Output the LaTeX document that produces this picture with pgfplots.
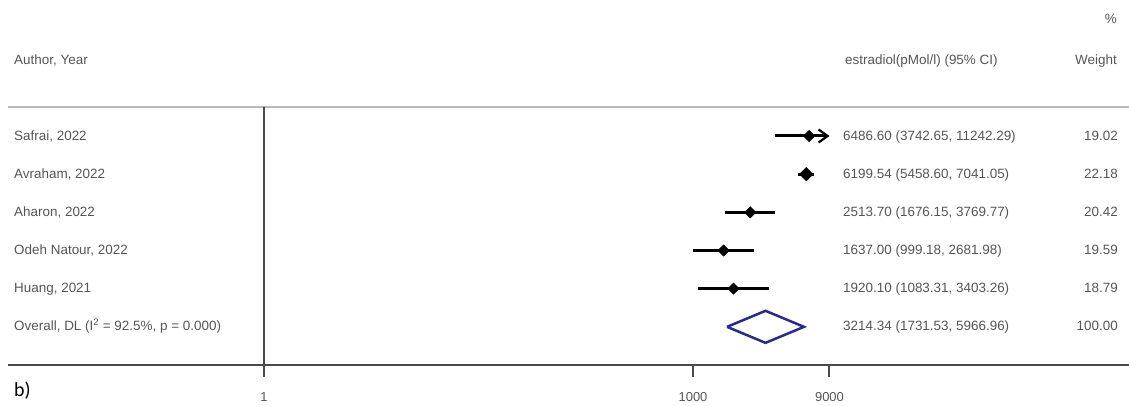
\documentclass[border=0pt]{standalone}
\usepackage{fontspec}
\setmainfont{Liberation Sans}
\newfontfamily\calib{Carlito}
\usepackage{pgfplots}
\pgfplotsset{compat=1.18}
\usetikzlibrary{arrows.meta}
\definecolor{txt}{HTML}{555555}
\definecolor{navy}{HTML}{2A2A8E}
\definecolor{axc}{HTML}{4A4A4A}
\tikzset{lab/.style={font=\fontsize{13.5}{16}\selectfont, text=txt, inner sep=0pt, yshift=-1.5bp}}
\begin{document}
\begin{tikzpicture}
\useasboundingbox (-8bp,-41bp) rectangle (1121bp,365bp);
\begin{axis}[
  at={(0,0)}, anchor=south west, scale only axis,
  width=1121bp, height=258bp,
  xmode=log, xmin=0.01622, xmax=1.119e6, ymin=0, ymax=6.76,
  axis x line*=bottom, axis y line=none,
  xtick={1,1000,9000}, xticklabels={\mbox{1},\mbox{1000},\mbox{9000}},
  xminorticks=false, ytick=\empty,
  tick align=outside, major tick length=12bp,
  x axis line style={line width=2.5bp, color=axc},
  tick style={line width=2bp, color=axc},
  xticklabel style={font=\fontsize{13}{15}\selectfont, text=txt, yshift=-12bp},
  clip=false,
]
% separator line and null line
\draw[line width=1.8bp, color=gray!55] (rel axis cs:0,1) -- (rel axis cs:1,1);
\addplot[line width=2bp, color=axc] coordinates {(1,0) (1,6.76)};
% confidence intervals
\addplot[line width=3bp, black, -{Straight Barb[length=9bp,width=13bp,line width=2.2bp]}] coordinates {(3742.65,6) (9000,6)};
\addplot[line width=3bp, black] coordinates {(5458.60,5) (7041.05,5)};
\addplot[line width=3bp, black] coordinates {(1676.15,4) (3769.77,4)};
\addplot[line width=3bp, black] coordinates {(999.18,3) (2681.98,3)};
\addplot[line width=3bp, black] coordinates {(1083.31,2) (3403.26,2)};
% point estimates
\addplot[only marks, mark=square*, mark size=4bp, mark options={rotate=45, black, fill=black}] coordinates {
 (6486.60,6) (2513.70,4) (1637.00,3) (1920.10,2)};
\addplot[only marks, mark=square*, mark size=4.8bp, mark options={rotate=45, black, fill=black}] coordinates {
 (6199.54,5)};
% overall diamond
\addplot[navy, line width=2.5bp, line join=miter] coordinates {
 (1731.53,1) (3214.34,1.42) (5966.96,1) (3214.34,0.58) (1731.53,1)};
% headers
\node[lab, anchor=mid east] at (rel axis cs:0.9893,1.340) {\%};
\node[lab, anchor=mid west] at (rel axis cs:0.00535,1.182) {Author, Year};
\node[lab, anchor=mid west] at (rel axis cs:0.7466,1.182) {estradiol(pMol/l) (95\% CI)};
\node[lab, anchor=mid east] at (rel axis cs:0.9893,1.182) {Weight};
% rows
\node[lab, anchor=mid west] at (rel axis cs:0.00535,0.8876) {Safrai, 2022};
\node[lab, anchor=mid west] at (rel axis cs:0.00535,0.7396) {Avraham, 2022};
\node[lab, anchor=mid west] at (rel axis cs:0.00535,0.5917) {Aharon, 2022};
\node[lab, anchor=mid west] at (rel axis cs:0.00535,0.4438) {Odeh Natour, 2022};
\node[lab, anchor=mid west] at (rel axis cs:0.00535,0.2959) {Huang, 2021};
\node[lab, anchor=mid west] at (rel axis cs:0.00535,0.1479) {Overall, DL (I\textsuperscript{2} = 92.5\%, p = 0.000)};
\node[lab, anchor=mid west] at (rel axis cs:0.7449,0.8876) {6486.60 (3742.65, 11242.29)};
\node[lab, anchor=mid west] at (rel axis cs:0.7449,0.7396) {6199.54 (5458.60, 7041.05)};
\node[lab, anchor=mid west] at (rel axis cs:0.7449,0.5917) {2513.70 (1676.15, 3769.77)};
\node[lab, anchor=mid west] at (rel axis cs:0.7449,0.4438) {1637.00 (999.18, 2681.98)};
\node[lab, anchor=mid west] at (rel axis cs:0.7449,0.2959) {1920.10 (1083.31, 3403.26)};
\node[lab, anchor=mid west] at (rel axis cs:0.7449,0.1479) {3214.34 (1731.53, 5966.96)};
\node[lab, anchor=mid east] at (rel axis cs:0.9902,0.8876) {19.02};
\node[lab, anchor=mid east] at (rel axis cs:0.9902,0.7396) {22.18};
\node[lab, anchor=mid east] at (rel axis cs:0.9902,0.5917) {20.42};
\node[lab, anchor=mid east] at (rel axis cs:0.9902,0.4438) {19.59};
\node[lab, anchor=mid east] at (rel axis cs:0.9902,0.2959) {18.79};
\node[lab, anchor=mid east] at (rel axis cs:0.9902,0.1479) {100.00};
\node[anchor=mid west, inner sep=0pt, text=black, font=\calib\fontsize{20}{24}\selectfont] at (rel axis cs:0.00535,-0.11) {b)};
\end{axis}
\end{tikzpicture}
\end{document}
